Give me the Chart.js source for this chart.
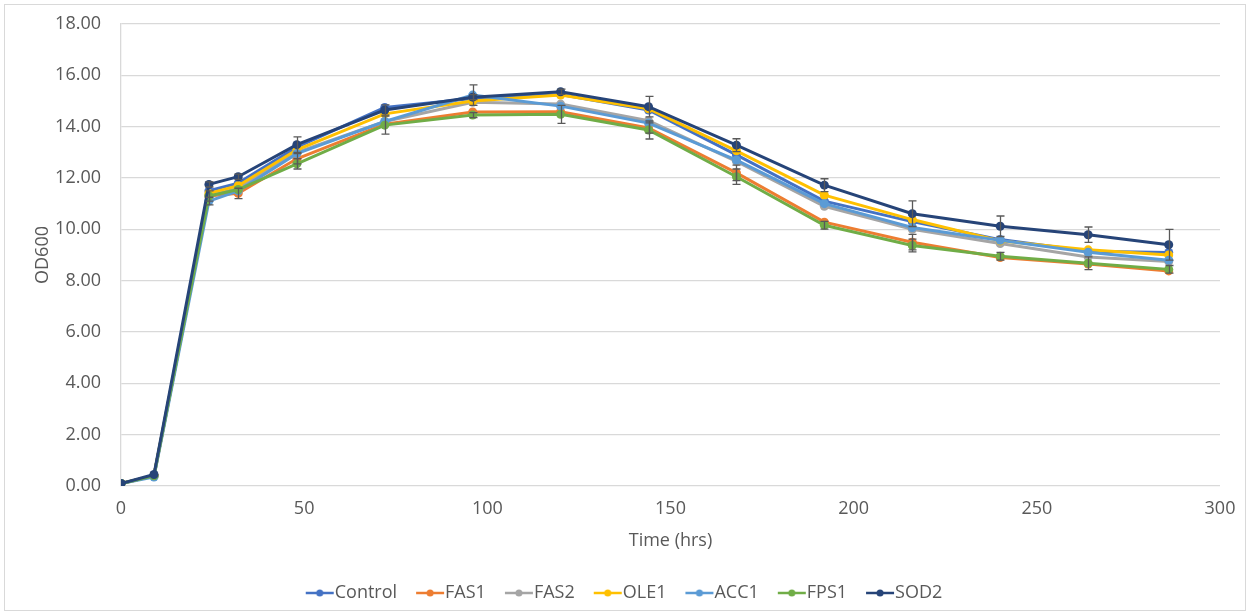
<!DOCTYPE html>
<html>
<head>
<meta charset="utf-8">
<script src="https://cdn.jsdelivr.net/npm/chart.js@4.4.1/dist/chart.umd.min.js"></script>
<style>
body { margin:0; background:#fff; }
#wrap { position:relative; width:1251px; height:616px; }
#frame { position:absolute; left:4px; top:4px; width:1242px; height:607px; border:1px solid #d9d9d9; box-sizing:border-box; }
canvas { position:absolute; left:0; top:0; }
</style>
</head>
<body>
<div id="wrap">
<div id="frame"></div>
<canvas id="c" width="1251" height="616"></canvas>
</div>
<script>
var hours = [0, 9, 24, 32, 48, 72, 96, 120, 144, 168, 192, 216, 240, 264, 286];

var control = [0.1, 0.4, 11.5, 11.8, 13.2, 14.75, 15.1, 15.25, 14.65, 12.9, 11.1, 10.3, 9.6, 9.15, 9.1];
var fas1    = [0.1, 0.4, 11.3, 11.4, 12.75, 14.1, 14.57, 14.58, 13.95, 12.2, 10.28, 9.5, 8.9, 8.65, 8.38];
var fas2    = [0.1, 0.4, 11.3, 11.6, 13.0, 14.2, 14.95, 14.88, 14.23, 12.65, 10.9, 10.0, 9.45, 8.92, 8.75];
var ole1    = [0.1, 0.4, 11.4, 11.7, 13.1, 14.5, 15.0, 15.23, 14.7, 13.06, 11.33, 10.38, 9.55, 9.2, 9.0];
var acc1    = [0.1, 0.35, 11.1, 11.5, 12.95, 14.2, 15.23, 14.8, 14.14, 12.7, 11.0, 10.07, 9.57, 9.11, 8.8];
var fps1    = [0.1, 0.4, 11.3, 11.55, 12.55, 14.06, 14.45, 14.48, 13.87, 12.05, 10.16, 9.37, 8.95, 8.68, 8.44];
var sod2    = [0.1, 0.45, 11.75, 12.05, 13.3, 14.65, 15.15, 15.36, 14.78, 13.28, 11.72, 10.61, 10.12, 9.79, 9.4];

// standard deviations (only the visible ones)
var errNone = [0, 0, 0, 0, 0, 0, 0, 0, 0, 0, 0, 0, 0, 0, 0];
var errFas1 = [0, 0, 0.2, 0.2, 0.2, 0, 0, 0, 0.2, 0.3, 0, 0.3, 0, 0, 0];
var errAcc1 = [0, 0, 0.15, 0, 0, 0, 0.4, 0, 0, 0, 0, 0, 0, 0, 0];
var errFps1 = [0, 0, 0, 0, 0.2, 0.35, 0.1, 0.35, 0.35, 0.3, 0.15, 0.25, 0.15, 0.25, 0.15];
var errSod2 = [0, 0, 0.1, 0.1, 0.3, 0.2, 0.1, 0.1, 0.4, 0.25, 0.25, 0.5, 0.4, 0.3, 0.6];

var names  = ['Control', 'FAS1', 'FAS2', 'OLE1', 'ACC1', 'FPS1', 'SOD2'];
var series = [control, fas1, fas2, ole1, acc1, fps1, sod2];
var errs   = [errNone, errFas1, errNone, errNone, errAcc1, errFps1, errSod2];
var colors = ['#4472C4', '#ED7D31', '#A5A5A5', '#FFC000', '#5B9BD5', '#70AD47', '#264478'];

var yTicks = [0, 2, 4, 6, 8, 10, 12, 14, 16, 18];
var xTicks = [0, 50, 100, 150, 200, 250, 300];

var textColor = '#595959';
var fontFam = '"Open Sans", "Liberation Sans", sans-serif';
var fontSize = 18;

function legendIcon(col) {
    var cv = document.createElement('canvas');
    cv.width = 40; cv.height = 10;
    var g = cv.getContext('2d');
    g.strokeStyle = col; g.lineWidth = 2.5;
    g.beginPath(); g.moveTo(10, 5); g.lineTo(38, 5); g.stroke();
    g.fillStyle = col;
    g.beginPath(); g.arc(24, 5, 3.5, 0, Math.PI * 2); g.fill();
    return cv;
}

var datasets = series.map(function(vals, i) {
    return {
        label: names[i],
        data: vals.map(function(v, j) { return {x: hours[j], y: v}; }),
        errors: errs[i],
        borderColor: colors[i],
        backgroundColor: colors[i],
        borderWidth: 3,
        pointRadius: 4.5,
        pointBorderWidth: 0,
        pointStyle: 'circle',
        legendIcon: legendIcon(colors[i]),
        order: series.length - i,
        tension: 0
    };
});

var errorBars = {
    id: 'errorBars',
    afterDatasetsDraw: function(chart) {
        var ctx = chart.ctx, xs = chart.scales.x, ys = chart.scales.y;
        ctx.save();
        ctx.strokeStyle = '#595959';
        ctx.lineWidth = 1.3;
        chart.data.datasets.forEach(function(ds) {
            ds.data.forEach(function(p, j) {
                var e = ds.errors[j];
                if (!e) return;
                var px = Math.round(xs.getPixelForValue(p.x)) + 0.5;
                var top = ys.getPixelForValue(p.y + e);
                var bot = ys.getPixelForValue(p.y - e);
                ctx.beginPath();
                ctx.moveTo(px, top); ctx.lineTo(px, bot);
                ctx.moveTo(px - 4, top); ctx.lineTo(px + 4, top);
                ctx.moveTo(px - 4, bot); ctx.lineTo(px + 4, bot);
                ctx.stroke();
            });
        });
        ctx.restore();
    }
};

new Chart(document.getElementById('c'), {
    type: 'line',
    data: { datasets: datasets },
    plugins: [errorBars],
    options: {
        responsive: false,
        animation: false,
        layout: { padding: { left: 28, right: 31, top: 24, bottom: 4 } },
        plugins: {
            tooltip: { enabled: false },
            legend: {
                position: 'bottom',
                labels: {
                    color: textColor,
                    font: { family: fontFam, size: fontSize },
                    usePointStyle: true,
                    pointStyleWidth: 20,
                    padding: 19,
                    sort: function(a, b) { return a.datasetIndex - b.datasetIndex; },
                    generateLabels: function(chart) {
                        return chart.data.datasets.map(function(ds, i) {
                            return { text: ds.label, pointStyle: ds.legendIcon, fillStyle: ds.borderColor,
                                     strokeStyle: ds.borderColor, fontColor: textColor, datasetIndex: i, lineWidth: 0 };
                        });
                    }
                }
            }
        },
        scales: {
            x: {
                type: 'linear', min: 0, max: 300,
                afterBuildTicks: function(s) { s.ticks = xTicks.map(function(v) { return {value: v}; }); },
                afterFit: function(s) { s.height = 79; },
                grid: { display: false, drawTicks: false },
                border: { display: false },
                ticks: { color: textColor, font: { family: fontFam, size: fontSize }, padding: 12, maxRotation: 0 },
                title: { display: true, text: 'Time (hrs)', color: textColor, font: { family: fontFam, size: fontSize }, padding: { top: 4, bottom: 13 } }
            },
            y: {
                min: 0, max: 18,
                afterBuildTicks: function(s) { s.ticks = yTicks.map(function(v) { return {value: v}; }); },
                afterFit: function(s) { s.width = 93; s.paddingTop = 0; s.paddingBottom = 0; },
                grid: { color: '#d9d9d9', lineWidth: 1.3, drawTicks: false },
                border: { display: true, color: '#d9d9d9', width: 1.3 },
                ticks: { color: textColor, font: { family: fontFam, size: fontSize }, padding: 20,
                         callback: function(v) { return v.toFixed(2); } },
                title: { display: true, text: 'OD600', color: textColor, font: { family: fontFam, size: fontSize }, padding: { bottom: 4 } }
            }
        }
    }
});
</script>
</body>
</html>
